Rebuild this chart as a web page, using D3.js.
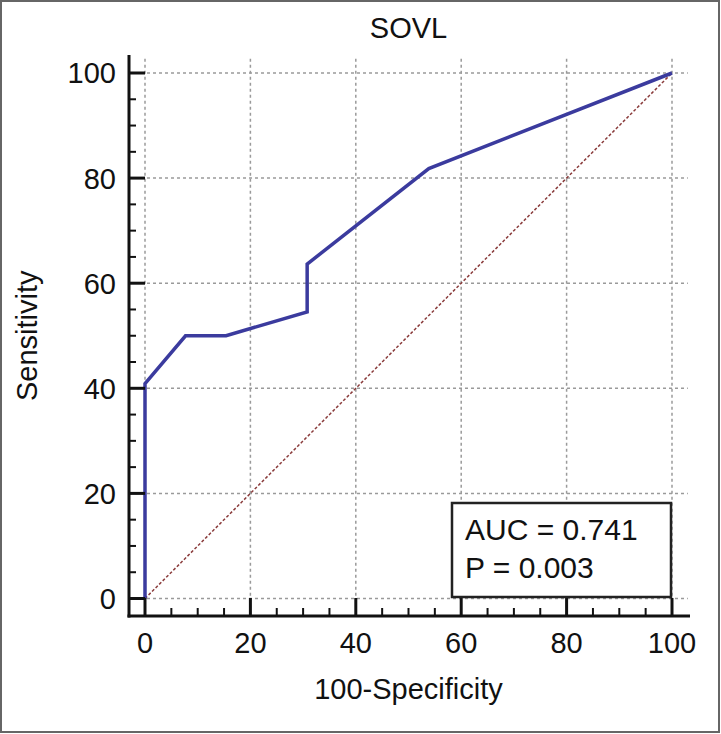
<!DOCTYPE html>
<html><head><meta charset="utf-8">
<script src="https://cdn.jsdelivr.net/npm/d3@7"></script>
<style>html,body{margin:0;padding:0;background:#fff;}svg{display:block;font-family:"Liberation Sans",Arial,sans-serif;}</style>
</head><body>
<script>
const title = "SOVL";
const xLabel = "100-Specificity";
const yLabel = "Sensitivity";
const fpr = [0, 0, 7.69, 15.38, 30.77, 30.77, 53.85, 100];
const tpr = [0, 40.91, 50, 50, 54.55, 63.64, 81.82, 100];
const majorTicks = [0, 20, 40, 60, 80, 100];
const minorTicks = d3.range(0, 101, 5).filter(v => v % 20 !== 0);
const statLines = ["AUC = 0.741", "P = 0.003"];

const W = 721, H = 734;
const svg = d3.select("body").append("svg").attr("width", W).attr("height", H);
svg.append("rect").attr("x", 1).attr("y", 1).attr("width", 718).attr("height", 731)
  .attr("fill", "#fff").attr("stroke", "#666").attr("stroke-width", 2);

const x = d3.scaleLinear().domain([0, 100]).range([145, 672]);
const y = d3.scaleLinear().domain([0, 100]).range([598.5, 73]);
const axX = 129, axY = 616;

// grid
const grid = svg.append("g").attr("stroke", "#9a9a9a").attr("stroke-width", 1.5).attr("stroke-dasharray", "3,3");
majorTicks.forEach(v => {
  grid.append("line").attr("x1", axX).attr("x2", x(103)).attr("y1", y(v)).attr("y2", y(v));
  grid.append("line").attr("x1", x(v)).attr("x2", x(v)).attr("y1", y(102.7)).attr("y2", axY);
});

// diagonal
svg.append("line").attr("x1", x(0)).attr("y1", y(0)).attr("x2", x(100)).attr("y2", y(100))
  .attr("stroke", "#8a3b3b").attr("stroke-width", 1.5).attr("stroke-dasharray", "3,2");

// ROC curve
const pts = fpr.map((f, i) => [f, tpr[i]]);
svg.append("path").datum(pts)
  .attr("d", d3.line().x(d => x(d[0])).y(d => y(d[1])))
  .attr("fill", "none").attr("stroke", "#3b3b9e").attr("stroke-width", 3.5).attr("stroke-linejoin", "miter");

// axes
const ax = svg.append("g").attr("stroke", "#111");
ax.append("line").attr("x1", axX).attr("x2", axX).attr("y1", 55).attr("y2", axY + 1.5).attr("stroke-width", 3);
ax.append("line").attr("x1", axX - 1.5).attr("x2", 690).attr("y1", axY).attr("y2", axY).attr("stroke-width", 3);
majorTicks.forEach(v => {
  ax.append("line").attr("x1", axX).attr("x2", axX + 16).attr("y1", y(v)).attr("y2", y(v)).attr("stroke-width", 3);
  ax.append("line").attr("x1", x(v)).attr("x2", x(v)).attr("y1", axY).attr("y2", axY - 18).attr("stroke-width", 3);
});
minorTicks.forEach(v => {
  ax.append("line").attr("x1", axX).attr("x2", axX + 7).attr("y1", y(v)).attr("y2", y(v)).attr("stroke-width", 2);
  ax.append("line").attr("x1", x(v)).attr("x2", x(v)).attr("y1", axY).attr("y2", axY - 8).attr("stroke-width", 2);
});

const fs = 29;
const txt = svg.append("g").attr("fill", "#111").attr("font-size", fs);
majorTicks.forEach(v => {
  txt.append("text").attr("x", 116).attr("y", y(v)).attr("dy", "0.36em").attr("text-anchor", "end").text(v);
  txt.append("text").attr("x", x(v)).attr("y", 653).attr("text-anchor", "middle").text(v);
});
txt.append("text").attr("x", (x(0) + x(100)) / 2).attr("y", 38).attr("text-anchor", "middle").text(title);
txt.append("text").attr("x", (x(0) + x(100)) / 2).attr("y", 699).attr("text-anchor", "middle").text(xLabel);
txt.append("text").attr("transform", `translate(37,${(y(0) + y(100)) / 2}) rotate(-90)`).attr("text-anchor", "middle").text(yLabel);

// stats box
svg.append("rect").attr("x", 452).attr("y", 503).attr("width", 219).attr("height", 94)
  .attr("fill", "#fff").attr("stroke", "#222").attr("stroke-width", 2.5);
statLines.forEach((s, i) => {
  svg.append("text").attr("x", 465).attr("y", 540 + i * 38).attr("font-size", 30).attr("fill", "#111").text(s);
});
</script>
</body></html>
